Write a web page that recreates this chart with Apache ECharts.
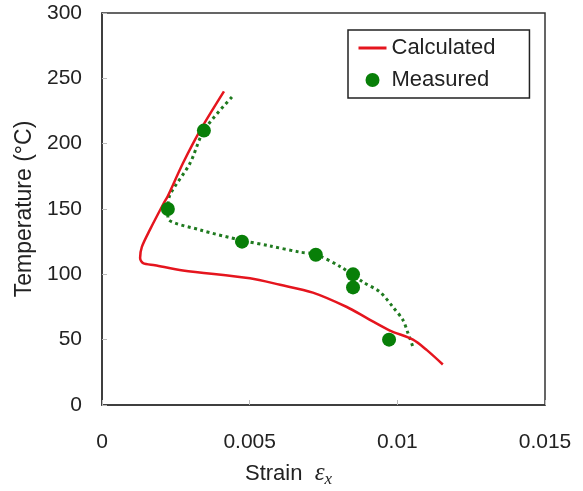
<!DOCTYPE html>
<html><head><meta charset="utf-8">
<script src="https://cdn.jsdelivr.net/npm/echarts@6/dist/echarts.min.js"></script>
<style>html,body{margin:0;padding:0;background:#fff}#c{width:583px;height:491px}</style>
</head><body><div id="c"></div>
<script>
// Calculated curve (strain, temperature)
const calcX = [0.00413,0.00332,0.00274,0.00223,0.00208,0.00162,0.00135,0.00129,0.00139,0.00179,0.00274,0.00501,0.00603,0.00714,0.00829,0.00897,0.00975,0.01053,0.0110,0.01154];
const calcY = [240,210,185,160,154,134,121,112.5,108.6,107,103,97,92,86,75,66.5,57,50,42,31];
// Measured points
const measX = [0.00345,0.00223,0.00474,0.00724,0.0085,0.0085,0.00972];
const measY = [210,150,125,115,100,90,50];
// Dotted trend line through measured data
const fitX = [0.00440,0.00345,0.00298,0.00230,0.00223,0.00223,0.00332,0.00474,0.00569,0.00670,0.00721,0.00806,0.00884,0.00941,0.00985,0.01019,0.01036,0.01053];
const fitY = [235.7,210,185,160.7,150,143,134,126,121.7,117,115.5,106,94,86.5,75,65,55,44.4];
const yTicks = [0,50,100,150,200,250,300];
const xTicks = [0,0.005,0.01,0.015];

const zip = (a,b)=>a.map((v,i)=>[v,b[i]]);
const font = '"Liberation Sans", Arial, sans-serif';
const chart = echarts.init(document.getElementById('c'), null, {renderer:'canvas'});
chart.setOption({
  animation:false,
  backgroundColor:'#fff',
  grid:{left:102,right:38,top:13,bottom:86,outerBoundsMode:'none',containLabel:false,
        show:true,borderColor:'#333',borderWidth:1.5,backgroundColor:'transparent'},
  legend:{
    orient:'vertical', left:348, top:30,
    data:[{name:'Calculated', itemStyle:{opacity:0}, lineStyle:{width:3}},{name:'Measured'}],
    borderColor:'#222', borderWidth:1.5, borderRadius:0,
    padding:[7,34,7,9], itemGap:10, itemWidth:28, itemHeight:14,
    textStyle:{fontFamily:font,fontSize:22,color:'#222'}
  },
  xAxis:{
    type:'value', min:xTicks[0], max:xTicks[xTicks.length-1], interval:0.005,
    axisLine:{show:true,lineStyle:{color:'#333',width:1.5}},
    axisTick:{show:true,inside:true,length:5,lineStyle:{color:'#bbb'}},
    splitLine:{show:false},
    axisLabel:{fontFamily:font,fontSize:21,color:'#222',margin:27,formatter:v=>String(+v.toFixed(3))},
    name:'{a|Strain  }{e|ε}{s|x}', nameLocation:'middle', nameGap:54,
    nameTextStyle:{padding:[0,70,0,0],rich:{
      a:{fontFamily:font,fontSize:22,color:'#222'},
      e:{fontFamily:'"Liberation Serif","DejaVu Serif",serif',fontStyle:'italic',fontSize:25,color:'#222'},
      s:{fontFamily:'"Liberation Serif","DejaVu Serif",serif',fontStyle:'italic',fontSize:17,color:'#222',padding:[12,0,0,0]}
    }}
  },
  yAxis:{
    type:'value', min:yTicks[0], max:yTicks[yTicks.length-1], interval:50,
    axisLine:{show:true,lineStyle:{color:'#333',width:1.5}},
    axisTick:{show:true,inside:true,length:5,lineStyle:{color:'#bbb'}},
    splitLine:{show:false},
    axisLabel:{fontFamily:font,fontSize:21,color:'#222',margin:20},
    name:'Temperature (°C)', nameLocation:'middle', nameGap:64, nameRotate:90,
    nameTextStyle:{fontFamily:font,fontSize:23,color:'#222'}
  },
  series:[
    {name:'Fit', type:'line', data:zip(fitX,fitY), symbol:'none', smooth:0.3,
     lineStyle:{color:'#1f7a1f',width:3,type:[3,3.5]}, z:2},
    {name:'Calculated', type:'line', data:zip(calcX,calcY), symbol:'none', smooth:0.3,
     lineStyle:{color:'#e5151e',width:2.5}, itemStyle:{color:'#e5151e'}, z:3},
    {name:'Measured', type:'scatter', data:zip(measX,measY), symbol:'circle', symbolSize:14,
     itemStyle:{color:'#087f08',opacity:1}, z:4}
  ]
});
</script></body></html>
